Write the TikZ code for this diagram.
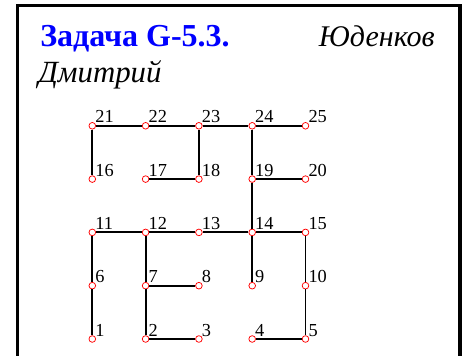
\documentclass[tikz,border=0pt]{standalone}
\usepackage{fontspec}
\setmainfont{Liberation Serif}
\tikzset{
  vert/.style={circle, draw=red, fill=white, line width=0.45pt, inner sep=0pt, minimum size=4pt},
  num/.style={anchor=base west, inner sep=0pt, font=\fontsize{11}{13}\selectfont},
  edge/.style={line width=1.1pt},
  head/.style={inner sep=0pt, font=\fontsize{18}{20}\selectfont},
}
\begin{document}
\begin{tikzpicture}[x=0.6pt,y=-0.6pt]
    \useasboundingbox (0,0) rectangle (466,356);
    % Frame
    \draw[line width=2.1pt] (17.5,356) -- (17.5,5.5) -- (460,5.5) -- (460,356);

    % Heading
    \node[head, anchor=base west, text=blue, font=\fontsize{19.2}{21}\selectfont\bfseries] (title) at (40,46.7) {Задача G-5.3.};
    \node[head, anchor=base east, font=\fontsize{18}{20}\selectfont\itshape] (surname) at (435,46.7) {Юденков};
    \node[head, anchor=base west, font=\fontsize{18.5}{20}\selectfont\itshape] (name) at (38,83) {Дмитрий};

    % Vertices
    \foreach \r in {0,...,4} {
        \foreach \c in {0,...,4} {
            \pgfmathtruncatemacro{\n}{5*\r+\c+1}
            \node[vert] (v\n) at (92.3+53.3*\c, 339-53.3*\r) {};
            \node[num] (n\n) at ([shift={(2.7,-2.8)}]v\n.center) {\n};
        }
    }

    % Edges
    \foreach \a/\b in {21/22,22/23,23/24,24/25,21/16,23/18,17/18,24/19,19/20,19/14,
                       11/12,12/13,13/14,14/15,11/6,6/1,12/7,7/2,7/8,2/3,14/9,15/10,10/5,4/5} {
        \draw[edge] (v\a) -- (v\b);
    }
\end{tikzpicture}
\end{document}
